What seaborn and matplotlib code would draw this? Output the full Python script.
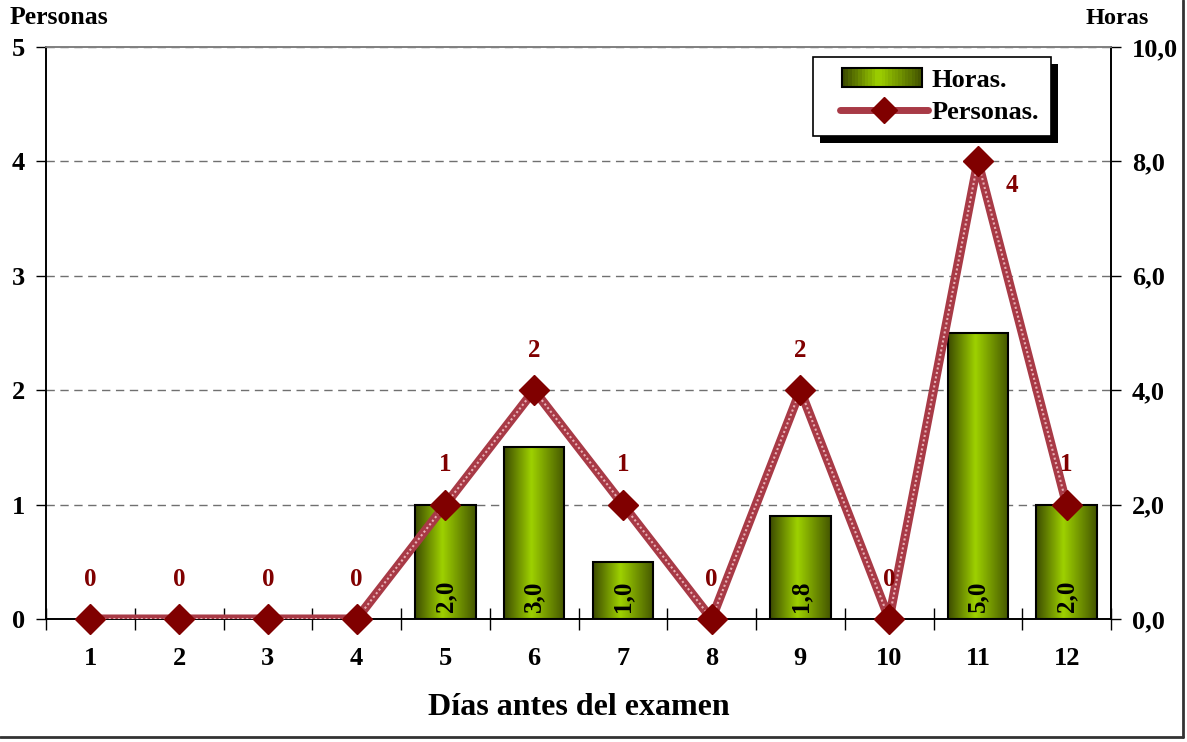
import numpy as np
import pandas as pd
import matplotlib
matplotlib.use("Agg")
import matplotlib.pyplot as plt
from matplotlib.patches import Rectangle
from matplotlib.lines import Line2D
from matplotlib.legend_handler import HandlerBase, HandlerLine2D
from matplotlib.transforms import IdentityTransform
import seaborn as sns

# Data
dias = ["1", "2", "3", "4", "5", "6", "7", "8", "9", "10", "11", "12"]
horas = [0, 0, 0, 0, 2.0, 3.0, 1.0, 0, 1.8, 0, 5.0, 2.0]
personas = [0, 0, 0, 0, 1, 2, 1, 0, 2, 0, 4, 1]
personas_ticks = [0, 1, 2, 3, 4, 5]
horas_ticks = [0, 2, 4, 6, 8, 10]

sns.set_theme(style="white")
plt.rcParams["font.family"] = ["Liberation Serif", "DejaVu Serif"]
plt.rcParams["font.weight"] = "bold"
for key in ("text.color", "axes.labelcolor", "xtick.color", "ytick.color"):
    plt.rcParams[key] = "black"

DARK_RED = "#800000"
LINE_RED = "#A83A46"
TICK_FS = 19
PX = 72 / 100  # points per pixel at 100 dpi

# Horizontal olive-to-lime gradient used for the bars
t = np.linspace(0, 1, 64)
dark_l = np.array([0.24, 0.30, 0.0])
bright = np.array([0.62, 0.82, 0.0])
dark_r = np.array([0.27, 0.34, 0.0])
grad = np.where(t[:, None] < 0.45,
                dark_l + (bright - dark_l) * (t[:, None] / 0.45),
                bright + (dark_r - bright) * ((t[:, None] - 0.45) / 0.55))


class GradientBarHandler(HandlerBase):
    """Legend key: gradient box drawn as thin strips, inset from the left."""
    def create_artists(self, legend, orig_handle, xdescent, ydescent,
                       width, height, fontsize, trans):
        x0 = -xdescent + 17 * PX
        w = 80 * PX
        y0 = -ydescent - 1
        h = height + 2
        n = 24
        arts = []
        for k in range(n):
            c = grad[int(k * (len(grad) - 1) / (n - 1))]
            arts.append(Rectangle((x0 + k * w / n, y0), w / n + 0.3, h,
                                  facecolor=c, edgecolor="none", transform=trans))
        arts.append(Rectangle((x0, y0), w, h, facecolor="none",
                              edgecolor="black", linewidth=1.5, transform=trans))
        return arts


class InsetLineHandler(HandlerLine2D):
    def get_xdata(self, legend, xdescent, ydescent, width, height, fontsize):
        xdata = np.array([-xdescent + 15 * PX, -xdescent + width])
        xm = np.array([xdata.mean()])
        return xdata, xm


fig = plt.figure(figsize=(11.87, 7.42), dpi=100)
ax = fig.add_axes([46 / 1187, 1 - 619 / 742, (1111 - 46) / 1187, (619 - 47) / 742])
ax2 = ax.twinx()

df = pd.DataFrame({"dia": dias, "horas": horas, "personas": personas})

# Bars (hours) on the secondary axis, drawn underneath the line
sns.barplot(data=df, x="dia", y="horas", ax=ax2, width=0.68,
            color="#8DB800", edgecolor="black", linewidth=1.5, zorder=3)
ax2.set_ylim(0, 10)
ax2.set_xlim(-0.5, 11.5)

grad_img = grad[None, :, :]
for p in ax2.patches:
    h = p.get_height()
    if h <= 0:
        p.set_visible(False)
        continue
    x0 = p.get_x()
    w = p.get_width()
    p.set_facecolor("none")
    p.set_zorder(3)
    im = ax2.imshow(grad_img, extent=[x0, x0 + w, 0, h], aspect="auto",
                    zorder=2.9, interpolation="bilinear")
    im.set_clip_path(p)
    ax2.text(x0 + w / 2, 0.12, f"{h:.1f}".replace(".", ","), rotation=90,
             ha="center", va="bottom", fontsize=18, fontweight="bold",
             color="black", zorder=4)
ax2.set_ylim(0, 10)
ax2.set_xlim(-0.5, 11.5)

# Grid on the secondary axis so it stays behind the bars
ax2.set_yticks(horas_ticks)
ax2.set_yticklabels([f"{v:.1f}".replace(".", ",") for v in horas_ticks],
                    fontsize=TICK_FS, fontweight="bold")
ax2.yaxis.grid(True, linestyle=(0, (6, 4)), color="#707070", linewidth=1, zorder=0)
ax2.set_axisbelow(True)
ax2.tick_params(axis="y", direction="out", length=7, width=1, colors="black",
                right=True, pad=8, labelsize=TICK_FS)
ax2.set_ylabel("")
ax2.set_xlabel("")

# Line (persons) on the primary axis, above the bars
ax.set_zorder(ax2.get_zorder() + 1)
ax.patch.set_visible(False)
xpos = np.arange(len(dias))
sns.lineplot(x=xpos, y=personas, ax=ax, color=LINE_RED, linewidth=6.5,
             zorder=5, legend=False)
ax.plot(xpos, personas, color="#E8B0B5", linewidth=1.5,
        linestyle=(0, (1, 1.2)), zorder=5.5)
ax.plot(xpos, personas, linestyle="none", marker="D", markersize=15,
        color=DARK_RED, markeredgecolor=DARK_RED, zorder=6, clip_on=False)
ax.set_ylim(0, 5)
ax.set_xlim(-0.5, 11.5)

for i, v in enumerate(personas):
    if i == 10:
        off = (34, -24)
    else:
        off = (0, 40)
    ax.annotate(str(v), (xpos[i], v), xytext=off, textcoords="offset pixels",
                ha="center", va="center", fontsize=18, fontweight="bold",
                color=DARK_RED, zorder=7)

ax.set_yticks(personas_ticks)
ax.set_yticklabels([str(v) for v in personas_ticks], fontsize=TICK_FS, fontweight="bold")
ax.tick_params(axis="y", direction="out", length=7, width=1, colors="black",
               left=True, pad=8, labelsize=TICK_FS)

# x ticks: marks between categories, labels at category centers
ax.set_xticks(np.arange(-0.5, 12, 1.0))
ax.set_xticklabels([])
ax.set_xticks(xpos, minor=True)
ax.set_xticklabels(dias, minor=True, fontsize=TICK_FS, fontweight="bold")
ax.tick_params(axis="x", which="major", direction="inout", length=16, width=1,
               colors="black", bottom=True)
ax.tick_params(axis="x", which="minor", length=0, pad=20, labelsize=TICK_FS)
ax2.tick_params(axis="x", which="both", bottom=False, labelbottom=False)
ax.set_xlabel("Días antes del examen", fontsize=23, fontweight="bold", labelpad=17)
ax.set_ylabel("")

for a in (ax, ax2):
    a.spines["top"].set_color("#808080")
    a.spines["top"].set_linewidth(1.2)
    for s in ("left", "right", "bottom"):
        a.spines[s].set_color("black")
        a.spines[s].set_linewidth(1.2)

# Axis titles at the top corners
fig.text(10 / 1187, 1 - 18 / 742, "Personas", ha="left", va="center",
         fontsize=18.5, fontweight="bold")
fig.text(1149 / 1187, 1 - 18 / 742, "Horas", ha="right", va="center",
         fontsize=17.5, fontweight="bold")

# Legend
h_bar = Rectangle((0, 0), 1, 1, facecolor="#8DB800", edgecolor="black", linewidth=1.5)
h_line = Line2D([0], [0], color=LINE_RED, linewidth=5, marker="D", markersize=13,
                markerfacecolor=DARK_RED, markeredgecolor=DARK_RED)
leg = ax.legend([h_bar, h_line], ["Horas.", "Personas."], loc="upper right",
                bbox_to_anchor=(0.9437, 0.9825), borderaxespad=0, frameon=True,
                fancybox=False, edgecolor="black", framealpha=1,
                handlelength=3.9, handleheight=0.6, handletextpad=0.15,
                borderpad=0.45, labelspacing=0.35,
                handler_map={Rectangle: GradientBarHandler(),
                             Line2D: InsetLineHandler()},
                prop={"weight": "bold", "size": 19})
leg.get_frame().set_linewidth(1.2)
leg.set_zorder(10)

fig.canvas.draw()
bb = leg.get_window_extent()
ax.add_patch(Rectangle((bb.x0 + 7, bb.y0 - 7), bb.width, bb.height,
                       transform=IdentityTransform(), facecolor="black",
                       edgecolor="none", zorder=9, clip_on=False))

# Outer frame on right and bottom
fig.add_artist(Line2D([1183 / 1187, 1183 / 1187], [1 - 737 / 742, 1.0],
                      transform=fig.transFigure, color="#333333", linewidth=2))
fig.add_artist(Line2D([0, 1183 / 1187], [1 - 737 / 742, 1 - 737 / 742],
                      transform=fig.transFigure, color="#333333", linewidth=2))

fig.savefig("out.png", dpi=100)
